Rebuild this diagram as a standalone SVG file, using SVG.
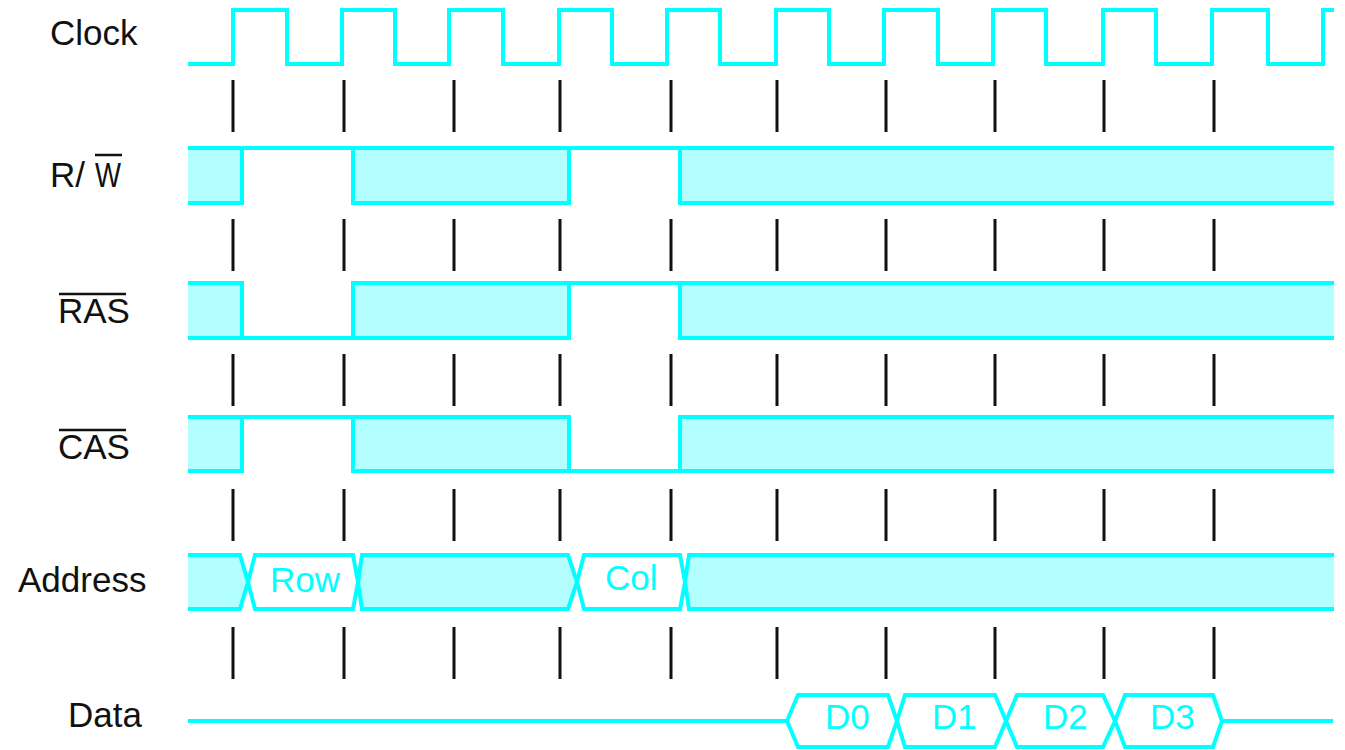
<svg xmlns="http://www.w3.org/2000/svg" width="1345" height="750" viewBox="0 0 1345 750">
<style>
.lbl{font-family:"Liberation Sans",Arial,sans-serif;font-size:35px;fill:#111}
.val{font-family:"Liberation Sans",Arial,sans-serif;font-size:35px;fill:#00ffff}
.sig{fill:none;stroke:#00ffff;stroke-width:4;stroke-linejoin:miter}
.fill{fill:#b3ffff;stroke:none}
.blank{fill:#fff;stroke:none}
.tick{stroke:#111;stroke-width:3}
.bar{stroke:#111;stroke-width:2.5}
</style>
<rect width="1345" height="750" fill="#fff"/>

<g id="clock">
<text class="lbl" x="50" y="45">Clock</text>
<path class="sig" d="M188,64 H233 V10 H287 V64 H342 V10 H395 V64 H449 V10 H503 V64 H559 V10 H612 V64 H667 V10 H720 V64 H776 V10 H829 V64 H884 V10 H938 V64 H993 V10 H1046 V64 H1103 V10 H1156 V64 H1212 V10 H1268 V64 H1323 V10 H1334"/>
</g>

<g id="rw">
<text class="lbl" x="50" y="187">R/</text>
<text class="lbl" x="95" y="187" textLength="26" lengthAdjust="spacingAndGlyphs">W</text>
<line class="bar" x1="95" y1="155" x2="122" y2="155"/>
<rect class="fill" x="188" y="148" width="54" height="55"/>
<rect class="fill" x="353" y="148" width="216" height="55"/>
<rect class="fill" x="680" y="148" width="654" height="55"/>
<path class="sig" d="M188,148 H1334 M188,203 H242 V148 M353,148 V203 H569 V148 M680,148 V203 H1334"/>
</g>

<g id="ras">
<text class="lbl" x="58" y="323">RAS</text>
<line class="bar" x1="59" y1="294" x2="126" y2="294"/>
<rect class="fill" x="188" y="283" width="54" height="55"/>
<rect class="fill" x="353" y="283" width="216" height="55"/>
<rect class="fill" x="680" y="283" width="654" height="55"/>
<path class="sig" d="M188,283 H242 V338 M188,338 H569 V283 M353,338 V283 H1334 M680,283 V338 H1334"/>
</g>

<g id="cas">
<text class="lbl" x="58" y="459">CAS</text>
<line class="bar" x1="59" y1="430" x2="126" y2="430"/>
<rect class="fill" x="188" y="417" width="54" height="54"/>
<rect class="fill" x="353" y="417" width="216" height="54"/>
<rect class="fill" x="680" y="417" width="654" height="54"/>
<path class="sig" d="M188,417 H569 V471 M188,471 H242 V417 M353,417 V471 H1334 M680,471 V417 H1334"/>
</g>

<g id="address">
<text class="lbl" x="18" y="592">Address</text>
<polygon class="fill" points="188,555 240,555 248,582 240,609 188,609"/>
<polygon class="fill" points="362,555 568,555 577,582 568,609 362,609 358,582"/>
<polygon class="fill" points="689,555 1334,555 1334,609 689,609 685,582"/>
<path class="sig" d="M188,555 H240 L248,582 L240,609 H188"/>
<path class="sig" d="M248,582 L255,555 H353 L358,582 L353,609 H255 Z"/>
<path class="sig" d="M358,582 L362,555 H568 L577,582 L568,609 H362 Z"/>
<path class="sig" d="M577,582 L584,555 H680 L685,582 L680,609 H584 Z"/>
<path class="sig" d="M1334,555 H689 L685,582 L689,609 H1334"/>
<text class="val" x="270" y="592">Row</text>
<text class="val" x="605" y="590">Col</text>
</g>

<g id="data">
<text class="lbl" x="68" y="727">Data</text>
<path class="sig" d="M188,721 H787 M1222,721 H1333"/>
<path class="sig" d="M787,721 L798,695 H888 L897,721 L888,747 H798 Z"/>
<path class="sig" d="M897,721 L905,695 H995 L1006,721 L995,747 H905 Z"/>
<path class="sig" d="M1006,721 L1017,695 H1103 L1115,721 L1103,747 H1017 Z"/>
<path class="sig" d="M1115,721 L1125,695 H1213 L1222,721 L1213,747 H1125 Z"/>
<text class="val" x="825" y="729">D0</text>
<text class="val" x="932" y="729">D1</text>
<text class="val" x="1043" y="729">D2</text>
<text class="val" x="1150" y="729">D3</text>
</g>

<g id="connectors">
<g id="ticks-1"><path class="tick" d="M233,80 V132 M344,80 V132 M454,80 V132 M560,80 V132 M671,80 V132 M777,80 V132 M886,80 V132 M995,80 V132 M1104,80 V132 M1214,80 V132"/></g>
<g id="ticks-2"><path class="tick" d="M233,219 V271 M344,219 V271 M454,219 V271 M560,219 V271 M671,219 V271 M777,219 V271 M886,219 V271 M995,219 V271 M1104,219 V271 M1214,219 V271"/></g>
<g id="ticks-3"><path class="tick" d="M233,354 V406 M344,354 V406 M454,354 V406 M560,354 V406 M671,354 V406 M777,354 V406 M886,354 V406 M995,354 V406 M1104,354 V406 M1214,354 V406"/></g>
<g id="ticks-4"><path class="tick" d="M233,489 V541 M344,489 V541 M454,489 V541 M560,489 V541 M671,489 V541 M777,489 V541 M886,489 V541 M995,489 V541 M1104,489 V541 M1214,489 V541"/></g>
<g id="ticks-5"><path class="tick" d="M233,627 V679 M344,627 V679 M454,627 V679 M560,627 V679 M671,627 V679 M777,627 V679 M886,627 V679 M995,627 V679 M1104,627 V679 M1214,627 V679"/></g>
</g>
</svg>
